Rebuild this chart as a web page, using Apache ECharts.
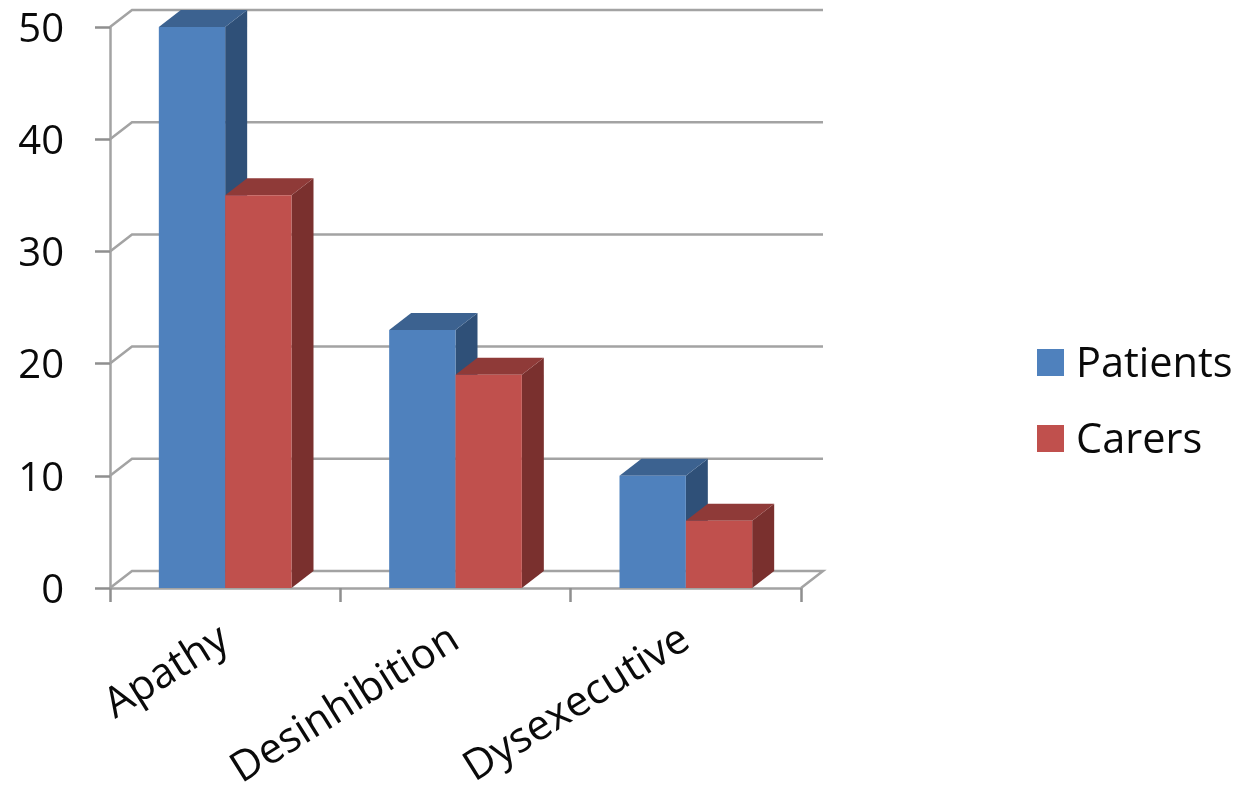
<!DOCTYPE html>
<html>
<head>
<meta charset="utf-8">
<style>html,body{margin:0;padding:0;background:#fff}#chart{width:1243px;height:789px}</style>
<script src="https://cdn.jsdelivr.net/npm/echarts@6/dist/echarts.min.js"></script>
</head>
<body>
<div id="chart"></div>
<script>
// Symptom domains and scores per respondent group
const categories = ['Apathy', 'Desinhibition', 'Dysexecutive'];
const patients = [50, 23, 10];
const carers = [35, 19, 6];
const yTicks = [0, 10, 20, 30, 40, 50];

// Oblique projection of the chart box, and the faces of each block
const DEPTH_X = 22, DEPTH_Y = 17;
const BAR_SHARE = 0.288;
const AXIS_GREY = '#a3a3a3';
const FONT = 'Open Sans';
const INK = '#0a0a0a';
const faces = {
  Patients: { front: '#4f81bd', top: '#3c6290', side: '#2f5078' },
  Carers: { front: '#c0504d', top: '#8f3a38', side: '#7a302e' }
};

function blockItem(name, slot) {
  const f = faces[name];
  return function (params, api) {
    const i = api.value(0);
    const base = api.coord([i, 0]);
    const head = api.coord([i, api.value(1)]);
    const w = api.size([1, 0])[0] * BAR_SHARE;
    const x0 = base[0] + slot * w, x1 = x0 + w;
    const y0 = base[1], y1 = head[1];
    return {
      type: 'group',
      children: [
        { type: 'polygon', shape: { points: [[x1, y1], [x1 + DEPTH_X, y1 - DEPTH_Y], [x1 + DEPTH_X, y0 - DEPTH_Y], [x1, y0]] }, style: { fill: f.side } },
        { type: 'polygon', shape: { points: [[x0, y1], [x0 + DEPTH_X, y1 - DEPTH_Y], [x1 + DEPTH_X, y1 - DEPTH_Y], [x1, y1]] }, style: { fill: f.top } },
        { type: 'rect', shape: { x: x0, y: y1, width: w, height: y0 - y1 }, style: { fill: f.front } }
      ]
    };
  };
}

// Back-wall gridlines and floor outline, one polyline per tick value
function wallItem(params, api) {
  const v = api.value(1);
  const cs = params.coordSys;
  const y = api.coord([0, v])[1];
  const pts = [[cs.x, y], [cs.x + DEPTH_X, y - DEPTH_Y], [cs.x + cs.width + DEPTH_X, y - DEPTH_Y]];
  if (v === 0) pts.push([cs.x + cs.width, y]);
  return { type: 'polyline', shape: { points: pts }, style: { fill: 'none', stroke: AXIS_GREY, lineWidth: 2.5 } };
}

function blockSeries(name, values, slot) {
  return {
    name: name,
    type: 'custom',
    renderItem: blockItem(name, slot),
    encode: { x: 0, y: 1 },
    itemStyle: { color: faces[name].front },
    data: values.map((v, i) => [i, v]),
    animation: false
  };
}

const chart = echarts.init(document.getElementById('chart'), null, { renderer: 'canvas' });
chart.setOption({
  animation: false,
  backgroundColor: '#fff',
  grid: { left: 110, right: 442, top: 27, bottom: 201, containLabel: false, outerBoundsMode: 'none' },
  legend: {
    data: ['Patients', 'Carers'],
    orient: 'vertical',
    left: 1037,
    top: 339,
    padding: 0,
    itemWidth: 27,
    itemHeight: 27,
    itemGap: 29,
    icon: 'rect',
    formatter: '{t|{name}}',
    textStyle: {
      rich: { t: { fontFamily: FONT, fontSize: 41.5, lineHeight: 42, color: INK, padding: [5, 0, 0, 7] } }
    }
  },
  xAxis: {
    type: 'category',
    data: categories,
    boundaryGap: true,
    axisLine: { lineStyle: { color: AXIS_GREY, width: 2.5 } },
    axisTick: { show: true, length: 14, lineStyle: { color: '#8f8f8f', width: 2.5 } },
    axisLabel: { rotate: 32, margin: 48, fontFamily: FONT, fontSize: 42, color: INK, interval: 0 }
  },
  yAxis: {
    type: 'value',
    min: 0,
    max: 50,
    interval: 10,
    axisLine: { show: true, lineStyle: { color: AXIS_GREY, width: 2.5 } },
    axisTick: { show: true, length: 15, lineStyle: { color: '#8f8f8f', width: 2.5 } },
    axisLabel: {
      margin: 46,
      formatter: '{t|{value}}',
      rich: { t: { fontFamily: FONT, fontSize: 40, color: INK, padding: [7, 0, 0, 0] } }
    },
    splitLine: { show: false }
  },
  series: [
    { name: 'wall', type: 'custom', renderItem: wallItem, encode: { x: 0, y: 1 }, data: yTicks.map(v => [0, v]), silent: true, animation: false },
    blockSeries('Patients', patients, -1),
    blockSeries('Carers', carers, 0)
  ]
});
</script>
</body>
</html>
